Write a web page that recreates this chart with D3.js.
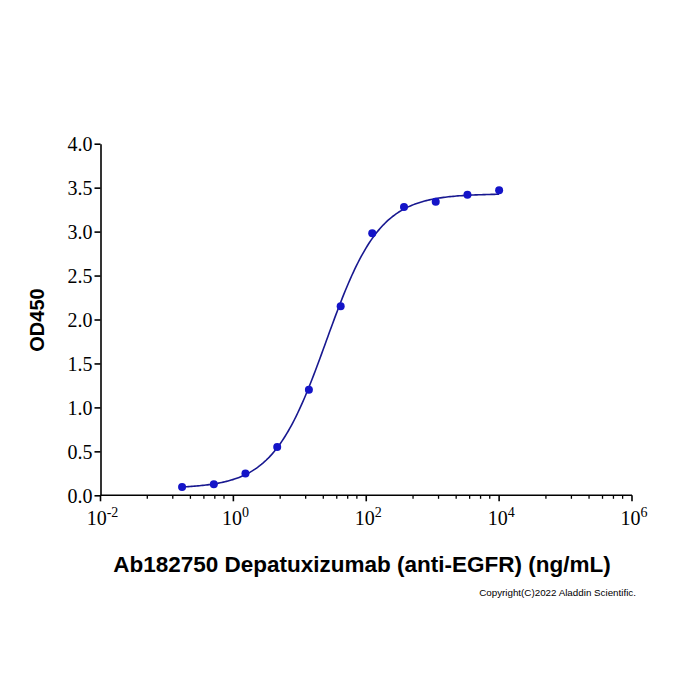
<!DOCTYPE html>
<html>
<head>
<meta charset="utf-8">
<script src="https://cdn.jsdelivr.net/npm/d3@7"></script>
<style>
  body { margin: 0; background: #fff; }
</style>
</head>
<body>
<svg id="chart" width="700" height="700"></svg>
<script>
// concentrations (ng/mL) and OD450 readings
const conc = [0.169, 0.508, 1.52, 4.57, 13.7, 41.2, 123, 370, 1111, 3333, 10000];
const od = [0.094, 0.125, 0.247, 0.55, 1.2, 2.15, 2.98, 3.28, 3.34, 3.42, 3.47];

// 4PL fit
const fitBottom = 0.08, fitTop = 3.43, fitEC50 = 25, fitHill = 1.08;

const yTicks = [0, 0.5, 1, 1.5, 2, 2.5, 3, 3.5, 4];
const xMajor = [-2, 0, 2, 4, 6];
const minorMult = [2.25, 3.5, 4.75, 6, 7.25, 8.5];

const svg = d3.select("#chart");
const x = d3.scaleLog().domain([1e-2, 1e6]).range([100.5, 632]);
const y = d3.scaleLinear().domain([0, 4]).range([495.3, 143.7]);

const g = svg.append("g");

// y axis
const yAxis = g.append("g")
  .attr("transform", `translate(${x.range()[0]},0)`)
  .call(d3.axisLeft(y).tickValues(yTicks).tickFormat(d3.format(".1f")).tickSize(6).tickSizeOuter(0));
yAxis.selectAll("text")
  .style("font-family", "Liberation Serif, Times New Roman, serif")
  .style("font-size", "20px").attr("x", -8).attr("dy", "0.34em");

// x axis
const minorVals = [];
xMajor.slice(0, -1).forEach(e => minorMult.forEach(m => minorVals.push(Math.pow(10, e + 2 * Math.log10(m)))));

const xAxis = g.append("g").attr("transform", `translate(0,${y(0)})`);
xAxis.append("line").attr("x1", x.range()[0]).attr("x2", x.range()[1])
  .attr("stroke", "#000").attr("stroke-width", 1.6);
xAxis.selectAll(".minor").data(minorVals).join("line")
  .attr("x1", d => x(d)).attr("x2", d => x(d)).attr("y1", 0).attr("y2", 3.5)
  .attr("stroke", "#000").attr("stroke-width", 1.3);
xAxis.selectAll(".major").data(xMajor).join("line")
  .attr("x1", d => x(Math.pow(10, d))).attr("x2", d => x(Math.pow(10, d))).attr("y1", 0).attr("y2", 6)
  .attr("stroke", "#000").attr("stroke-width", 1.6);
const xl = xAxis.selectAll(".lab").data(xMajor).join("text")
  .attr("x", d => x(Math.pow(10, d)) + 2).attr("y", 30)
  .attr("text-anchor", "middle")
  .style("font-family", "Liberation Serif, Times New Roman, serif").style("font-size", "20px");
xl.append("tspan").text("10");
xl.append("tspan").attr("dy", -8).style("font-size", "14px").text(d => d);

yAxis.select(".domain").attr("stroke-width", 1.6);
yAxis.selectAll(".tick line").attr("stroke-width", 1.6);

// fitted curve
const curveX = d3.range(0, 201).map(i => Math.pow(10, Math.log10(conc[0]) + i / 200 * (Math.log10(conc[conc.length - 1]) - Math.log10(conc[0]))));
const fit = c => fitBottom + (fitTop - fitBottom) / (1 + Math.pow(fitEC50 / c, fitHill));
g.append("path")
  .datum(curveX)
  .attr("fill", "none").attr("stroke", "#181890").attr("stroke-width", 1.6)
  .attr("d", d3.line().x(d => x(d)).y(d => y(fit(d))));

// data points
g.selectAll(".pt").data(conc).join("circle")
  .attr("cx", d => x(d)).attr("cy", (d, i) => y(od[i])).attr("r", 4)
  .attr("fill", "#1414c8");

// titles
svg.append("text").attr("x", 362).attr("y", 572).attr("text-anchor", "middle")
  .style("font-family", "Liberation Sans, Arial, sans-serif").style("font-weight", "bold").style("font-size", "22.5px")
  .text("Ab182750 Depatuxizumab (anti-EGFR) (ng/mL)");
svg.append("text").attr("transform", "translate(44,320) rotate(-90)").attr("text-anchor", "middle")
  .style("font-family", "Liberation Sans, Arial, sans-serif").style("font-weight", "bold").style("font-size", "20px")
  .text("OD450");
svg.append("text").attr("x", 636).attr("y", 596).attr("text-anchor", "end")
  .style("font-family", "Liberation Sans, Arial, sans-serif").style("font-size", "9.8px")
  .text("Copyright(C)2022 Aladdin Scientific.");
</script>
</body>
</html>
